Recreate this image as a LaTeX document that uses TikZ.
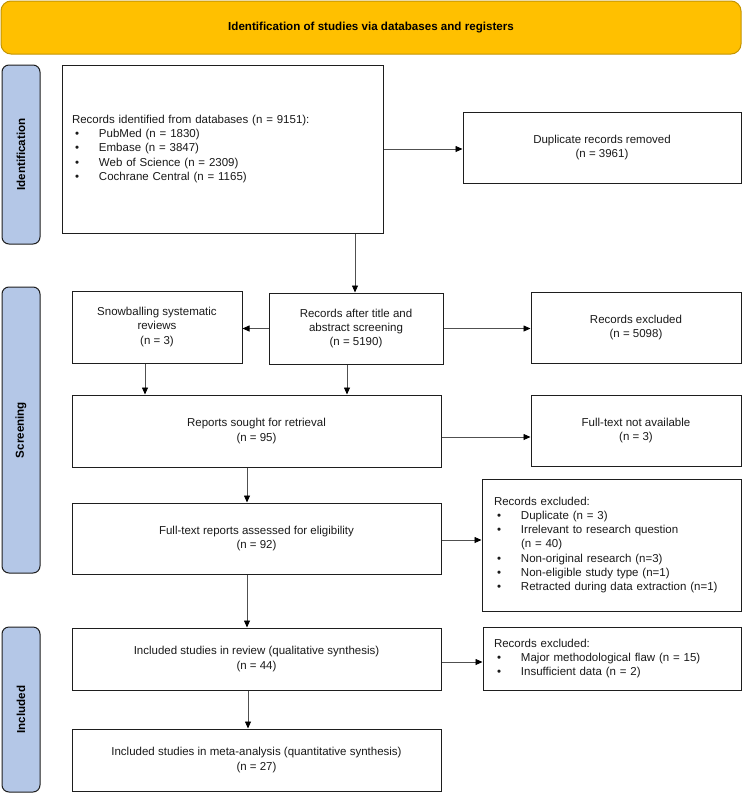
\documentclass[tikz,border=0pt]{standalone}
\usepackage{fontspec}
\setmainfont{Liberation Sans}
\usetikzlibrary{arrows.meta,calc}
\definecolor{bannerfill}{HTML}{FFC000}
\definecolor{bannerline}{HTML}{C49400}
\definecolor{sidefill}{HTML}{B4C7E7}
\definecolor{boxline}{HTML}{1E1E1E}
\definecolor{arrline}{HTML}{505050}
\definecolor{txt}{HTML}{1A1A1A}
\newcommand\bitem[1]{\hspace*{3pt}\makebox[24pt][l]{\textbullet}#1}
\begin{document}
\begin{tikzpicture}[x=1pt,y=-1pt,
  bodyfont/.style={font=\fontsize{11.5}{14.2}\selectfont, text=txt},
  flowbox/.style={draw=boxline, line width=1pt, fill=white, rectangle, inner sep=0pt, align=center, bodyfont},
  listbox/.style={flowbox, align=left},
  sidebox/.style={draw=boxline, line width=1pt, fill=sidefill, rounded corners=7pt, inner sep=0pt},
  sidelabel/.style={rotate=90, font=\bfseries\fontsize{11.6}{13}\selectfont},
  bannerbox/.style={draw=bannerline, line width=1pt, fill=bannerfill, rounded corners=10pt, inner sep=0pt, font=\bfseries\fontsize{11.6}{13}\selectfont},
  arr/.style={draw=arrline, line width=0.8pt, -{Triangle[length=7pt,width=6pt,fill=black,color=black]}}
]
\useasboundingbox (0,0) rectangle (742,795);

\node[bannerbox, minimum width=740pt, minimum height=53pt] (banner) at (371,27.5) {Identification of studies via databases and registers};

\node[sidebox, minimum width=38pt, minimum height=179pt] (sideI) at (21,154.5) {};
\node[sidelabel] (labI) at (sideI.center) {Identification};
\node[sidebox, minimum width=38pt, minimum height=286pt] (sideS) at (21,430) {};
\node[sidelabel] (labS) at (sideS.center) {Screening};
\node[sidebox, minimum width=38pt, minimum height=165pt] (sideN) at (21,709.5) {};
\node[sidelabel] (labN) at (sideN.center) {Included};

\node[listbox, minimum width=321pt, minimum height=168pt, text width=301pt] (recdb) at (222.5,149) {Records identified from databases (n = 9151):\\
\bitem{PubMed (n = 1830)}\\
\bitem{Embase (n = 3847)}\\
\bitem{Web of Science (n = 2309)}\\
\bitem{Cochrane Central (n = 1165)}};

\node[flowbox, minimum width=278pt, minimum height=71pt] (dup) at (602,147.5) {Duplicate records removed\\(n = 3961)};

\node[flowbox, minimum width=170pt, minimum height=72pt] (snow) at (157,327) {Snowballing systematic\\reviews\\(n = 3)};
\node[flowbox, minimum width=174pt, minimum height=71pt] (after) at (356,328.5) {Records after title and\\abstract screening\\(n = 5190)};
\node[flowbox, minimum width=210pt, minimum height=71pt] (excl1) at (636,327.5) {Records excluded\\(n = 5098)};

\node[flowbox, minimum width=369pt, minimum height=72pt] (sought) at (256.5,431) {Reports sought for retrieval\\(n = 95)};
\node[flowbox, minimum width=210pt, minimum height=71pt] (fna) at (636,430.5) {Full-text not available\\(n = 3)};

\node[flowbox, minimum width=369pt, minimum height=71pt] (fte) at (256.5,538.5) {Full-text reports assessed for eligibility\\(n = 92)};
\node[listbox, minimum width=259pt, minimum height=132pt, text width=235pt] (excl2) at (611.5,545) {Records excluded:\\
\bitem{Duplicate (n = 3)}\\
\bitem{Irrelevant to research question}\\
\hspace*{27pt}(n = 40)\\
\bitem{Non-original research (n=3)}\\
\bitem{Non-eligible study type (n=1)}\\
\bitem{Retracted during data extraction (n=1)}};

\node[flowbox, minimum width=369pt, minimum height=62pt] (incl) at (256.5,659) {Included studies in review (qualitative synthesis)\\(n = 44)};
\node[listbox, minimum width=258pt, minimum height=63pt, text width=236pt] (excl3) at (612,658.5) {Records excluded:\\
\bitem{Major methodological flaw (n = 15)}\\
\bitem{Insufficient data (n = 2)}};

\node[flowbox, minimum width=369pt, minimum height=62pt] (meta) at (256.5,760) {Included studies in meta-analysis (quantitative synthesis)\\(n = 27)};

% connectors
\draw[arr] (recdb.east) -- (recdb.east -| dup.west);
\coordinate (a1) at ([xshift=-1pt]after.north);
\draw[arr] (a1 |- recdb.south) -- (a1);
\draw[arr] (after.west) -- (after.west -| snow.east);
\draw[arr] (after.east) -- (after.east -| excl1.west);
\coordinate (a2) at ([xshift=-12pt]snow.south);
\draw[arr] (a2) -- (a2 |- sought.north);
\coordinate (a3) at ([xshift=-9pt]after.south);
\draw[arr] (a3) -- (a3 |- sought.north);
\coordinate (a4) at ([yshift=-6pt]sought.east);
\draw[arr] (a4) -- (a4 -| fna.west);
\coordinate (a5) at ([xshift=-9.5pt]sought.south);
\draw[arr] (a5) -- (a5 |- fte.north);
\coordinate (a6) at ([yshift=-1.5pt]fte.east);
\draw[arr] (a6) -- (a6 -| excl2.west);
\coordinate (a7) at ([xshift=-9.5pt]fte.south);
\draw[arr] (a7) -- (a7 |- incl.north);
\coordinate (a8) at ([yshift=-3pt]incl.east);
\draw[arr] (a8) -- (a8 -| excl3.west);
\coordinate (a9) at ([xshift=-8.5pt]incl.south);
\draw[arr] (a9) -- (a9 |- meta.north);
\end{tikzpicture}
\end{document}
